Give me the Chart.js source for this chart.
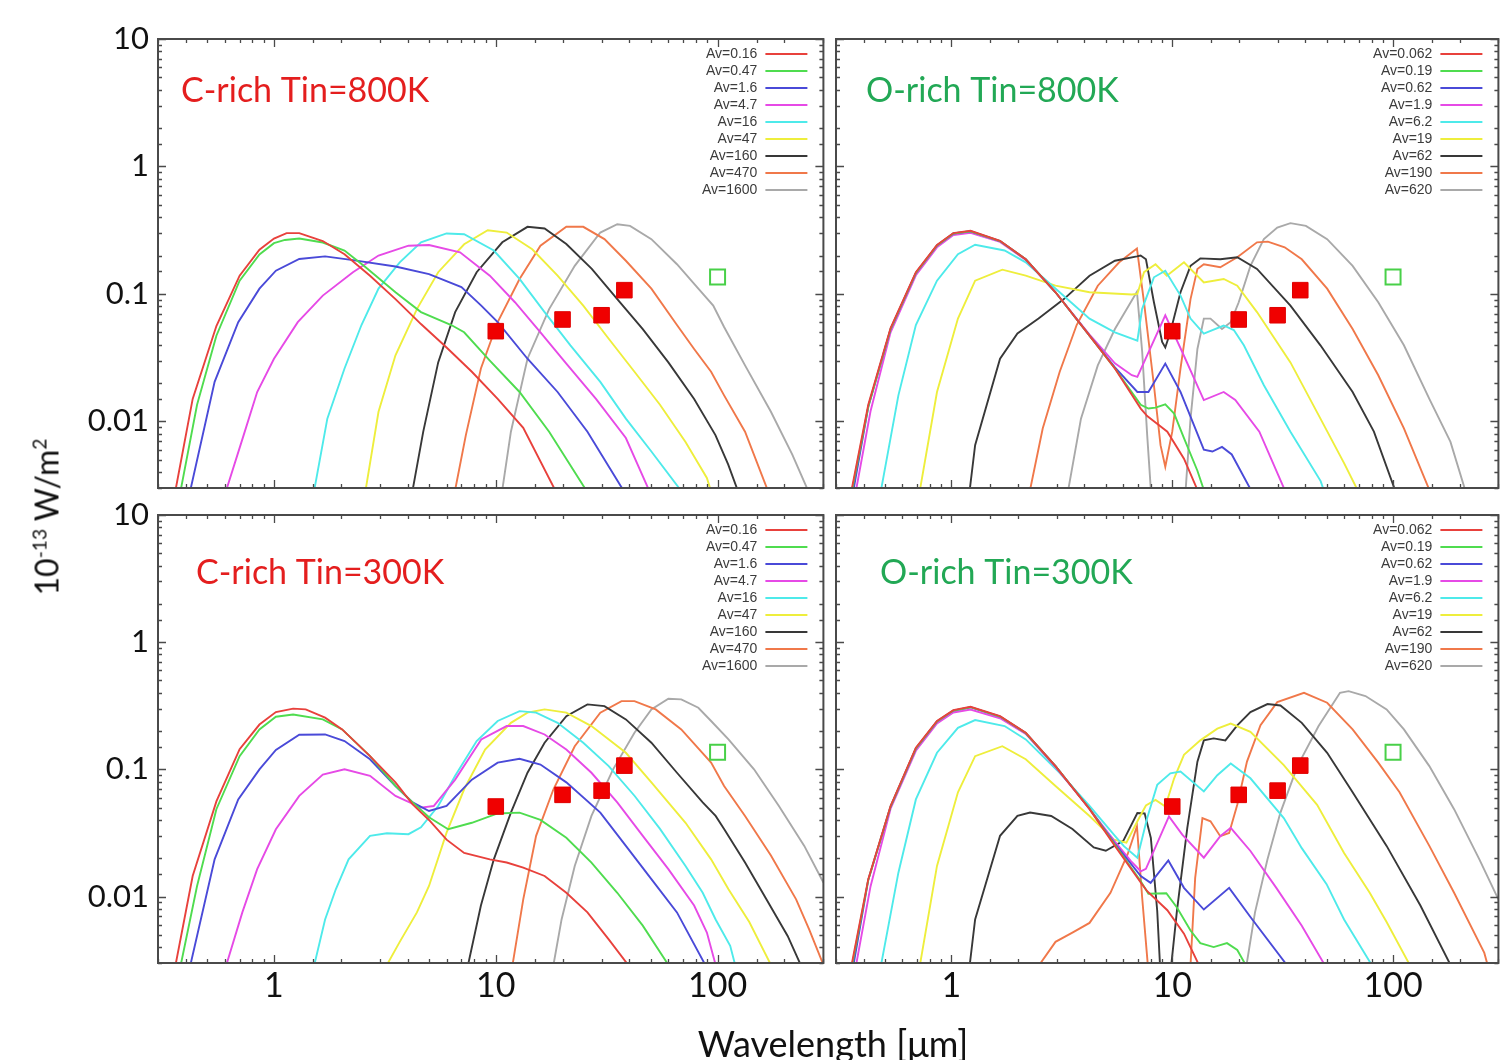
<!DOCTYPE html>
<html>
<head>
<meta charset="utf-8">
<script src="https://cdn.jsdelivr.net/npm/chart.js@4.4.1/dist/chart.umd.min.js"></script>
<style>
  body { margin: 0; width: 1503px; height: 1060px; background: #fff; position: relative; overflow: hidden; font-family: Lato, sans-serif; }
  canvas { position: absolute; }
  .ytitle { position: absolute; left: 46px; top: 517px; transform: translate(-50%, -50%) rotate(-90deg); font-size: 32px; white-space: nowrap; color: #111; }
  .ytitle sup { font-size: 0.6em; }
  .xtitle { position: absolute; left: 833px; top: 1021px; transform: translateX(-50%); font-size: 36px; white-space: nowrap; color: #111; }
</style>
</head>
<body>
<canvas id="cRich800"></canvas>
<canvas id="oRich800"></canvas>
<canvas id="cRich300"></canvas>
<canvas id="oRich300"></canvas>
<div class="ytitle">10<sup>-13</sup> W/m<sup>2</sup></div>
<div class="xtitle">Wavelength [μm]</div>
<script>
// legend labels
const avCrich = ['Av=0.16', 'Av=0.47', 'Av=1.6', 'Av=4.7', 'Av=16', 'Av=47', 'Av=160', 'Av=470', 'Av=1600'];
const avOrich = ['Av=0.062', 'Av=0.19', 'Av=0.62', 'Av=1.9', 'Av=6.2', 'Av=19', 'Av=62', 'Av=190', 'Av=620'];

// observed photometry (µm, 1e-13 W/m2)
const obsWl = [10, 20, 30, 38];
const obsFlux = [0.051, 0.063, 0.068, 0.107];
const farIrWl = [100];
const farIrFlux = [0.136];

// model SEDs, [wavelength µm, flux] pairs, one list per Av
const cRich800 = [
  [[0.36,0.0029],[0.43,0.015],[0.55,0.056],[0.70,0.139],[0.86,0.222],[1.0,0.272],[1.14,0.30],[1.30,0.30],[1.66,0.26],[2.08,0.205],[2.71,0.139],[3.53,0.091],[4.6,0.058],[6.0,0.038],[7.8,0.0245],[10.2,0.015],[13.3,0.0089],[18.5,0.0029]],
  [[0.38,0.0029],[0.45,0.0135],[0.55,0.047],[0.70,0.127],[0.86,0.204],[1.0,0.25],[1.12,0.265],[1.30,0.272],[1.66,0.253],[2.08,0.219],[2.59,0.162],[3.53,0.103],[4.6,0.072],[6.3,0.057],[7.2,0.05],[9.4,0.030],[12.8,0.017],[17.4,0.0083],[25.5,0.0029]],
  [[0.42,0.0029],[0.54,0.0204],[0.69,0.06],[0.86,0.11],[1.02,0.152],[1.30,0.188],[1.70,0.197],[2.27,0.184],[3.53,0.164],[5.0,0.143],[7.0,0.113],[8.6,0.081],[10.2,0.06],[13.9,0.031],[19.0,0.017],[25.9,0.0083],[37.5,0.0029]],
  [[0.61,0.0029],[0.73,0.0078],[0.84,0.017],[1.0,0.031],[1.28,0.06],[1.66,0.097],[2.27,0.148],[2.96,0.2],[4.04,0.239],[5.0,0.242],[6.9,0.212],[9.4,0.139],[12.2,0.086],[15.9,0.05],[20.8,0.0284],[28.3,0.015],[38.6,0.0074],[49,0.0029]],
  [[1.52,0.0029],[1.74,0.0105],[2.08,0.026],[2.48,0.057],[2.96,0.11],[3.69,0.177],[4.6,0.254],[6.0,0.298],[7.2,0.294],[9.8,0.219],[12.8,0.131],[16.6,0.072],[21.7,0.0395],[29.6,0.0204],[38.6,0.0105],[50.3,0.0058],[68,0.0029]],
  [[2.59,0.0029],[2.96,0.0119],[3.53,0.033],[4.41,0.076],[5.5,0.148],[7.2,0.245],[9.2,0.316],[11.2,0.303],[14.6,0.224],[19.0,0.139],[24.8,0.081],[32.3,0.0445],[42.2,0.0245],[55,0.0135],[71.7,0.0069],[89.5,0.0036],[93,0.0029]],
  [[4.22,0.0029],[4.71,0.0083],[5.5,0.029],[6.56,0.072],[8.2,0.148],[10.7,0.254],[13.9,0.336],[16.6,0.326],[20.8,0.246],[27.1,0.157],[35.3,0.091],[46,0.053],[60,0.029],[78.4,0.015],[97.8,0.0078],[111.6,0.0046],[123,0.0029]],
  [[6.56,0.0029],[7.33,0.0078],[8.57,0.026],[10.2,0.06],[12.8,0.131],[15.9,0.239],[20.8,0.336],[24.8,0.336],[30.9,0.269],[38.6,0.182],[50.3,0.11],[65.6,0.057],[78.4,0.037],[93.5,0.0245],[107,0.016],[133,0.0083],[168,0.0029]],
  [[10.7,0.0029],[11.7,0.0083],[13.9,0.031],[17.4,0.076],[22.7,0.166],[29.6,0.303],[35.3,0.352],[40.3,0.342],[50.3,0.269],[65.6,0.171],[81.9,0.11],[95.6,0.081],[107,0.055],[133,0.0275],[174,0.0119],[217,0.0055],[255,0.0029]]
];

const oRich800 = [
  [[0.353,0.0029],[0.42,0.0135],[0.53,0.054],[0.69,0.148],[0.86,0.242],[1.02,0.30],[1.22,0.313],[1.66,0.261],[2.17,0.187],[2.96,0.103],[4.22,0.047],[5.5,0.026],[7.2,0.0126],[7.7,0.011],[8.6,0.0095],[9.5,0.0083],[11.3,0.0051],[13.0,0.0029]],
  [[0.355,0.0029],[0.42,0.013],[0.53,0.053],[0.69,0.146],[0.86,0.24],[1.02,0.298],[1.22,0.31],[1.66,0.26],[2.17,0.187],[2.96,0.103],[4.22,0.047],[5.5,0.026],[7.2,0.0135],[7.8,0.0126],[8.4,0.0128],[9.3,0.0136],[10.2,0.0115],[11.3,0.0074],[13.0,0.0041],[13.9,0.0029]],
  [[0.36,0.0029],[0.42,0.013],[0.53,0.053],[0.69,0.146],[0.86,0.24],[1.02,0.298],[1.22,0.31],[1.66,0.26],[2.17,0.187],[2.96,0.103],[4.22,0.047],[5.5,0.0265],[6.95,0.017],[7.8,0.017],[9.3,0.0284],[10.9,0.017],[13.9,0.006],[15.2,0.0058],[16.8,0.0063],[18.6,0.0055],[22.7,0.0029]],
  [[0.37,0.0029],[0.43,0.012],[0.53,0.05],[0.69,0.14],[0.86,0.232],[1.02,0.29],[1.22,0.302],[1.66,0.256],[2.17,0.185],[2.96,0.103],[4.22,0.048],[5.5,0.0285],[6.56,0.023],[6.95,0.0223],[9.3,0.068],[11.1,0.035],[13.9,0.0147],[17.1,0.017],[19.3,0.0147],[24.8,0.0083],[32.3,0.0029]],
  [[0.48,0.0029],[0.575,0.016],[0.69,0.057],[0.86,0.127],[1.07,0.205],[1.28,0.243],[1.74,0.219],[2.17,0.177],[3.09,0.103],[4.22,0.064],[5.5,0.05],[6.95,0.043],[7.3,0.076],[8.26,0.135],[9.3,0.152],[10.9,0.097],[12.1,0.064],[13.9,0.0487],[17.1,0.0565],[19.0,0.052],[21.1,0.0395],[26,0.0192],[34.3,0.0083],[47,0.0034],[48.5,0.0029]],
  [[0.72,0.0029],[0.86,0.017],[1.07,0.064],[1.28,0.127],[1.70,0.155],[2.17,0.139],[2.96,0.116],[4.22,0.103],[6.56,0.099],[6.95,0.1],[7.45,0.148],[8.4,0.171],[9.45,0.139],[11.3,0.177],[13.9,0.123],[17.1,0.131],[19.7,0.116],[24.2,0.072],[34.3,0.029],[46.9,0.0105],[60,0.0047],[69,0.0029]],
  [[1.21,0.0029],[1.28,0.0065],[1.66,0.031],[1.99,0.049],[2.48,0.064],[3.23,0.091],[4.22,0.139],[5.5,0.182],[6.92,0.197],[7.19,0.2],[7.6,0.187],[8.26,0.086],[9.0,0.042],[9.3,0.038],[9.8,0.05],[10.9,0.103],[12.1,0.166],[13.4,0.19],[16.5,0.187],[19.7,0.194],[24.2,0.157],[34.3,0.081],[46.9,0.0395],[65.6,0.017],[81.9,0.0083],[102,0.0029]],
  [[2.27,0.0029],[2.59,0.0088],[3.09,0.0244],[3.69,0.057],[4.6,0.116],[5.75,0.177],[6.92,0.227],[7.45,0.086],[8.26,0.0192],[8.85,0.0065],[9.3,0.0044],[10.0,0.0083],[10.9,0.026],[12.1,0.091],[13.0,0.157],[13.9,0.171],[16.5,0.162],[19.7,0.194],[24.2,0.254],[27.1,0.257],[32.3,0.232],[38.6,0.187],[50.3,0.11],[65.6,0.053],[85.7,0.023],[112,0.0088],[146,0.0029]],
  [[3.38,0.0029],[3.86,0.0105],[4.6,0.0275],[5.5,0.053],[6.92,0.104],[7.31,0.035],[7.7,0.0078],[8.0,0.0029],[8.3,0.001],[11.2,0.001],[11.5,0.0029],[12.1,0.0105],[13.0,0.037],[13.9,0.064],[14.9,0.064],[16.8,0.053],[18.4,0.06],[20,0.086],[22.6,0.166],[26,0.269],[29.9,0.332],[34.3,0.359],[40.3,0.342],[50.3,0.269],[65.6,0.166],[85.7,0.086],[112,0.0395],[146,0.015],[182,0.0069],[212,0.0029]]
];

const cRich300 = [
  [[0.36,0.0029],[0.43,0.0145],[0.55,0.056],[0.70,0.144],[0.86,0.225],[1.02,0.282],[1.22,0.30],[1.39,0.296],[1.70,0.255],[2.03,0.206],[2.71,0.127],[3.53,0.079],[4.22,0.053],[5.0,0.04],[6.0,0.028],[7.2,0.022],[9.4,0.0196],[11.2,0.0185],[13.3,0.0169],[16.6,0.0145],[20.8,0.0107],[25.9,0.0075],[32.3,0.0046],[39.5,0.0029]],
  [[0.38,0.0029],[0.45,0.0121],[0.55,0.0486],[0.70,0.127],[0.86,0.206],[1.02,0.259],[1.22,0.27],[1.66,0.247],[2.03,0.206],[2.71,0.127],[3.53,0.074],[4.22,0.055],[5.0,0.042],[6.1,0.0338],[7.8,0.038],[10.2,0.045],[12.8,0.0457],[15.9,0.04],[20.8,0.029],[27,0.0185],[35.3,0.0107],[46,0.0059],[60,0.0029]],
  [[0.42,0.0029],[0.54,0.0196],[0.69,0.058],[0.86,0.1],[1.02,0.142],[1.30,0.187],[1.70,0.188],[2.08,0.167],[2.71,0.12],[3.53,0.074],[4.22,0.055],[5.0,0.047],[6.0,0.0515],[7.8,0.083],[10.2,0.113],[12.8,0.121],[15.9,0.109],[20.8,0.079],[29.6,0.0457],[38.6,0.025],[50.3,0.0137],[65.6,0.0075],[88,0.0029]],
  [[0.61,0.0029],[0.72,0.0075],[0.84,0.0164],[1.02,0.0338],[1.30,0.0618],[1.66,0.091],[2.08,0.1],[2.71,0.089],[3.53,0.0618],[4.6,0.05],[5.25,0.0515],[6.56,0.083],[8.6,0.172],[11.2,0.219],[13.3,0.219],[16.6,0.188],[20.8,0.143],[27,0.094],[35.3,0.055],[46,0.03],[60,0.0164],[78.4,0.0085],[89.5,0.0052],[98,0.0029]],
  [[1.52,0.0029],[1.70,0.0066],[1.90,0.0114],[2.17,0.0196],[2.71,0.03],[3.23,0.0314],[4.04,0.0309],[4.6,0.035],[5.5,0.0515],[6.56,0.089],[8.2,0.167],[10.2,0.24],[12.8,0.287],[15.2,0.279],[19.0,0.232],[24.8,0.162],[32.3,0.106],[42.2,0.062],[55,0.034],[71.7,0.0174],[85.7,0.0107],[98,0.0066],[114,0.0041],[120,0.0029]],
  [[3.23,0.0029],[3.69,0.0044],[4.41,0.0075],[5.0,0.0121],[6.0,0.0318],[7.2,0.0697],[8.95,0.143],[11.7,0.232],[13.9,0.279],[16.6,0.296],[20.8,0.279],[27,0.219],[38.6,0.135],[50.3,0.079],[71.7,0.038],[93.5,0.0196],[112,0.0114],[139,0.0063],[174,0.0029]],
  [[7.5,0.0029],[8.57,0.0085],[9.8,0.0196],[11.7,0.0457],[13.9,0.094],[16.6,0.162],[20.8,0.262],[25.9,0.324],[30.9,0.314],[38.6,0.247],[50.3,0.162],[65.6,0.094],[85.7,0.055],[98,0.043],[107,0.034],[133,0.0185],[166,0.0095],[207,0.0049],[237,0.0029]],
  [[11.9,0.0029],[13.3,0.0095],[15.2,0.03],[18.2,0.0697],[22.7,0.152],[29.6,0.279],[36.9,0.344],[42.2,0.344],[52.6,0.296],[68.6,0.206],[93.5,0.113],[107,0.074],[133,0.043],[174,0.021],[226,0.0095],[259,0.0055],[300,0.0029]],
  [[18.2,0.0029],[19.8,0.0066],[22.7,0.0174],[27,0.043],[33.8,0.1],[42.2,0.194],[50.3,0.296],[60,0.359],[68.6,0.355],[81.9,0.305],[93.5,0.24],[112,0.172],[146,0.1],[189,0.0515],[246,0.025],[300,0.0129]]
];

const oRich300 = [
  [[0.353,0.0029],[0.42,0.0137],[0.53,0.0515],[0.69,0.148],[0.86,0.24],[1.02,0.292],[1.22,0.31],[1.66,0.262],[2.17,0.194],[2.96,0.106],[4.22,0.0486],[5.5,0.025],[7.2,0.0129],[7.7,0.011],[9.5,0.0078],[11.3,0.0051],[13.2,0.0029]],
  [[0.355,0.0029],[0.42,0.0135],[0.53,0.051],[0.69,0.146],[0.86,0.238],[1.02,0.29],[1.22,0.308],[1.66,0.26],[2.17,0.193],[2.96,0.106],[4.22,0.049],[5.5,0.0255],[7.2,0.0132],[7.8,0.0105],[9.4,0.0106],[10.5,0.0082],[12.1,0.0054],[13.4,0.0043],[15.4,0.004],[17.7,0.0043],[19.7,0.0038],[21.5,0.0029]],
  [[0.36,0.0029],[0.42,0.0135],[0.53,0.051],[0.69,0.146],[0.86,0.238],[1.02,0.29],[1.22,0.308],[1.66,0.26],[2.17,0.193],[2.96,0.106],[4.22,0.049],[5.5,0.026],[7.2,0.0145],[7.98,0.0128],[9.6,0.0192],[11.3,0.0117],[13.9,0.0079],[18.1,0.0117],[22.6,0.0069],[33,0.0029]],
  [[0.37,0.0029],[0.43,0.012],[0.53,0.049],[0.69,0.14],[0.86,0.23],[1.02,0.28],[1.22,0.295],[1.66,0.252],[2.17,0.19],[2.96,0.104],[4.22,0.049],[5.5,0.027],[6.5,0.019],[7.2,0.0158],[7.6,0.0165],[9.66,0.0427],[11.1,0.0307],[13.9,0.0202],[16.5,0.0298],[18.4,0.0347],[22.6,0.0228],[29.6,0.0117],[38.6,0.0059],[49,0.0029]],
  [[0.48,0.0029],[0.575,0.0154],[0.69,0.058],[0.86,0.135],[1.07,0.212],[1.28,0.244],[1.74,0.219],[2.17,0.172],[3.09,0.094],[4.22,0.0515],[5.5,0.03],[6.04,0.0249],[6.95,0.0202],[7.7,0.0414],[8.55,0.0755],[9.8,0.093],[10.9,0.096],[13.9,0.067],[16.0,0.09],[18.4,0.111],[22.6,0.085],[32,0.0414],[38.6,0.024],[50,0.0125],[60,0.0066],[80,0.0029]],
  [[0.72,0.0029],[0.86,0.0174],[1.07,0.066],[1.28,0.127],[1.70,0.152],[2.17,0.12],[2.96,0.074],[4.22,0.043],[5.45,0.028],[6.2,0.0265],[7.0,0.04],[7.6,0.052],[8.4,0.0575],[9.3,0.051],[10.2,0.085],[11.3,0.13],[13.4,0.169],[16.0,0.209],[18.4,0.229],[22.6,0.197],[32,0.108],[45.3,0.0526],[60,0.022],[78.4,0.0107],[93.5,0.0063],[119,0.0029]],
  [[1.21,0.0029],[1.28,0.0066],[1.66,0.03],[1.99,0.043],[2.27,0.0457],[2.83,0.043],[3.53,0.034],[4.41,0.0243],[5.0,0.0229],[6.0,0.0274],[6.95,0.0453],[7.5,0.045],[8.0,0.0289],[8.55,0.0077],[8.8,0.0029],[9.2,0.001],[9.6,0.001],[9.9,0.0029],[10.5,0.0077],[11.7,0.0347],[13.0,0.115],[13.9,0.169],[15.4,0.175],[17.4,0.169],[19.7,0.222],[22.6,0.282],[27,0.326],[30.9,0.318],[38.6,0.232],[50.3,0.135],[65.6,0.066],[93.5,0.025],[133,0.0085],[182,0.0029]],
  [[2.5,0.0029],[2.96,0.0044],[3.53,0.0052],[4.22,0.0062],[5.25,0.0107],[6.28,0.0215],[6.92,0.0357],[7.3,0.01],[7.75,0.0029],[7.9,0.001],[11.9,0.001],[12.1,0.0029],[12.7,0.014],[13.7,0.0414],[14.9,0.039],[16.5,0.0298],[18.1,0.0316],[19.7,0.0526],[21.8,0.115],[25.1,0.222],[29.9,0.338],[39.5,0.4],[50.3,0.334],[65.6,0.206],[85.7,0.113],[107,0.066],[146,0.025],[189,0.0107],[259,0.0036],[268,0.0029]],
  [[21.7,0.0029],[23.7,0.0075],[27,0.0196],[30.9,0.0457],[36.9,0.106],[46,0.219],[57.5,0.4],[62.9,0.412],[75,0.377],[93.5,0.296],[112,0.206],[146,0.106],[189,0.0486],[246,0.0196],[300,0.0095]]
];

const lineColors = ['#e8413c', '#4fdc4f', '#4a4ad8', '#e64ae6', '#4eeaea', '#eeee3c', '#383838', '#f0784a', '#a9a9a9'];

const isDecade = v => Math.abs(Math.log10(v) - Math.round(Math.log10(v))) < 1e-9;
const decadeLabel = v => isDecade(v) ? String(+v.toPrecision(2)) : '';

// frame, inward ticks, panel title and key
const panelDecor = {
  id: 'panelDecor',
  afterDatasetsDraw(chart, args, opts) {
    const { ctx, chartArea: a } = chart;
    const xs = chart.scales.x, ys = chart.scales.y;
    ctx.save();
    ctx.strokeStyle = '#4a4a4a';
    ctx.lineWidth = 1.3;
    ctx.beginPath();
    xs.ticks.forEach(t => {
      const px = Math.round(xs.getPixelForValue(t.value)) + 0.5;
      const len = isDecade(t.value) ? 8 : 4;
      ctx.moveTo(px, a.bottom); ctx.lineTo(px, a.bottom - len);
      ctx.moveTo(px, a.top); ctx.lineTo(px, a.top + len);
    });
    ys.ticks.forEach(t => {
      const py = Math.round(ys.getPixelForValue(t.value)) + 0.5;
      const len = isDecade(t.value) ? 8 : 4;
      ctx.moveTo(a.left, py); ctx.lineTo(a.left + len, py);
      ctx.moveTo(a.right, py); ctx.lineTo(a.right - len, py);
    });
    ctx.stroke();
    ctx.lineWidth = 2;
    ctx.strokeRect(a.left, a.top, a.right - a.left, a.bottom - a.top);

    ctx.font = '34px Lato';
    ctx.fillStyle = opts.color;
    ctx.textBaseline = 'alphabetic';
    ctx.textAlign = 'left';
    ctx.fillText(opts.title, a.left + opts.dx, a.top + opts.dy);

    ctx.font = '14px "Liberation Sans"';
    ctx.textAlign = 'right';
    ctx.textBaseline = 'middle';
    ctx.lineWidth = 1.8;
    chart.data.datasets.filter(d => !d.marker).forEach((d, i) => {
      const yy = a.top + 15 + i * 17;
      ctx.fillStyle = '#3c3c3c';
      ctx.fillText(d.label, a.right - 66, yy);
      ctx.strokeStyle = d.borderColor;
      ctx.beginPath();
      ctx.moveTo(a.right - 58, yy); ctx.lineTo(a.right - 16, yy);
      ctx.stroke();
    });
    ctx.restore();
  }
};

function makePanel(id, box, curves, labels, title, titleColor, dx, dy, showX, showY) {
  const cv = document.getElementById(id);
  cv.width = box.r - box.l + 112;
  cv.height = box.b - box.t + 90;
  cv.style.left = (box.l - 100) + 'px';
  cv.style.top = (box.t - 30) + 'px';

  const datasets = [
    { marker: true, label: 'obs', data: obsWl.map((w, i) => ({ x: w, y: obsFlux[i] })), showLine: false,
      pointStyle: 'rect', pointRadius: 11, backgroundColor: '#f00000', borderColor: '#e00000', borderWidth: 1, order: -2 },
    { marker: true, label: 'far-IR', data: farIrWl.map((w, i) => ({ x: w, y: farIrFlux[i] })), showLine: false,
      pointStyle: 'rect', pointRadius: 10.6, backgroundColor: 'rgba(0,0,0,0)', borderColor: '#48d048', borderWidth: 2, order: -1 }
  ];
  curves.forEach((c, i) => datasets.push({
    label: labels[i],
    data: c.map(p => ({ x: p[0], y: p[1] })),
    borderColor: lineColors[i],
    borderWidth: 1.9,
    pointRadius: 0,
    tension: 0,
    fill: false
  }));

  return new Chart(cv, {
    type: 'line',
    data: { datasets },
    options: {
      responsive: false,
      animation: false,
      events: [],
      layout: { padding: { left: showY ? 0 : 100, top: 30, right: 12, bottom: showX ? 0 : 60 } },
      plugins: {
        legend: { display: false },
        tooltip: { enabled: false },
        panelDecor: { title, color: titleColor, dx, dy }
      },
      scales: {
        x: {
          type: 'logarithmic', min: 0.3, max: 300,
          grid: { display: false, drawTicks: false },
          border: { display: false },
          ticks: { display: showX, autoSkip: false, maxRotation: 0, padding: 3, color: '#111',
                   font: { family: 'Lato', size: 34 }, callback: decadeLabel },
          afterFit: s => { s.height = showX ? 60 : 0; }
        },
        y: {
          type: 'logarithmic', min: 0.003, max: 10,
          grid: { display: false, drawTicks: false },
          border: { display: false },
          ticks: { display: showY, autoSkip: false, padding: 9, color: '#111',
                   font: { family: 'Lato', size: 31 }, callback: decadeLabel },
          afterFit: s => { s.width = showY ? 100 : 0; }
        }
      }
    },
    plugins: [panelDecor]
  });
}

makePanel('cRich800', { l: 158, t: 39, r: 824, b: 488 }, cRich800, avCrich, 'C-rich Tin=800K', '#e41e1e', 23, 63, false, true);
makePanel('oRich800', { l: 836, t: 39, r: 1499, b: 488 }, oRich800, avOrich, 'O-rich Tin=800K', '#22a855', 30, 63, false, false);
makePanel('cRich300', { l: 158, t: 515, r: 824, b: 963 }, cRich300, avCrich, 'C-rich Tin=300K', '#e41e1e', 38, 69, true, true);
makePanel('oRich300', { l: 836, t: 515, r: 1499, b: 963 }, oRich300, avOrich, 'O-rich Tin=300K', '#22a855', 44, 69, true, false);
</script>
</body>
</html>
